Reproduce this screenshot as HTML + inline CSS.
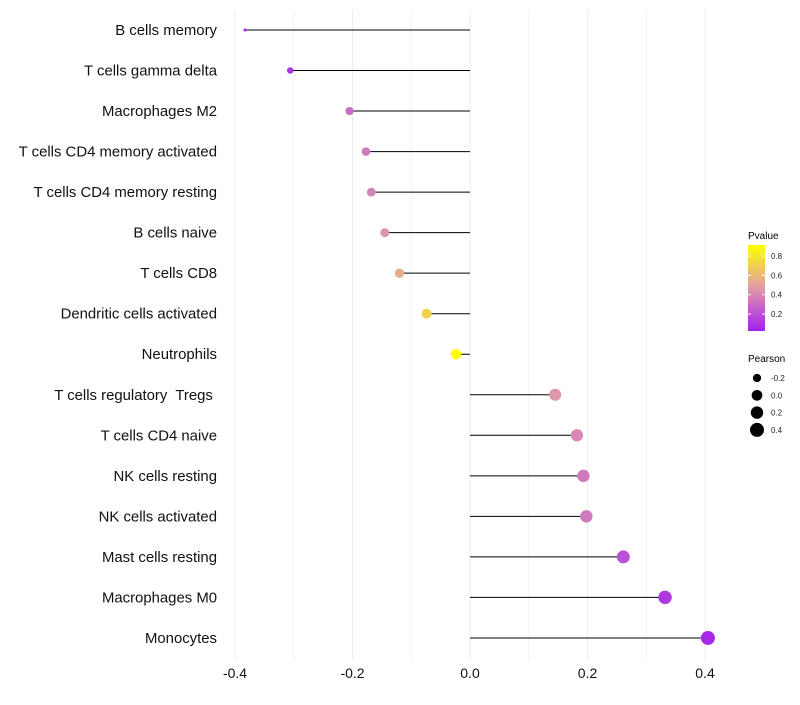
<!DOCTYPE html>
<html><head><meta charset="utf-8"><style>
body{margin:0;background:#fff;font-family:"Liberation Sans",sans-serif}
svg text{font-family:"Liberation Sans",sans-serif;white-space:pre}
</style></head><body>
<svg id="chart" width="800" height="700">
<defs><linearGradient id="pg" x1="0" y1="1" x2="0" y2="0">
<stop offset="0" stop-color="#A020F0"/><stop offset="0.5" stop-color="#E29AA8"/><stop offset="1" stop-color="#FFFF00"/>
</linearGradient></defs>
<g id="grid"></g>
<g id="marks"></g>
<g id="axes"></g>
<g>
<text x="748" y="239" font-size="10">Pvalue</text>
<rect x="748" y="245" width="17" height="86" fill="url(#pg)"/>
<g id="pticks"></g>
</g>
<g>
<text x="748" y="362" font-size="10">Pearson</text>
<g id="sleg"></g>
</g>
</svg>
<script>
const categories=["B cells memory","T cells gamma delta","Macrophages M2","T cells CD4 memory activated","T cells CD4 memory resting","B cells naive","T cells CD8","Dendritic cells activated","Neutrophils","T cells regulatory  Tregs ","T cells CD4 naive","NK cells resting","NK cells activated","Mast cells resting","Macrophages M0","Monocytes"];
const pearson=[-0.383,-0.306,-0.205,-0.177,-0.168,-0.145,-0.12,-0.074,-0.024,0.145,0.182,0.193,0.198,0.261,0.332,0.405];
const pvalue=[0.05,0.1,0.3,0.35,0.38,0.45,0.55,0.7,0.92,0.45,0.4,0.35,0.35,0.2,0.12,0.06];
const xTicks=[-0.4,-0.2,0,0.2,0.4];
const pTicks=[0.2,0.4,0.6,0.8];
const sTicks=[-0.2,0,0.2,0.4];
const NS="http://www.w3.org/2000/svg";
function mk(t,a,p){const e=document.createElementNS(NS,t);for(const k in a)e.setAttribute(k,a[k]);p.appendChild(e);return e;}
const x=v=>470+v*587.5;
const y=i=>30+i*40.53;
const pmin=Math.min(...pearson),pmax=Math.max(...pearson);
const rad=v=>{const t=Math.max(0,(v-pmin)/(pmax-pmin));return 1.5+5.5*Math.sqrt(t);};
function lerp(a,b,t){return a.map((c,i)=>Math.round(c+(b[i]-c)*t));}
function col(p){const t=Math.max(0,Math.min(1,(p-0.03)/0.87));const A=[160,32,240],M=[226,154,168],B=[255,255,0];
const c=t<0.5?lerp(A,M,t*2):lerp(M,B,(t-0.5)*2);return `rgb(${c})`;}
const grid=document.getElementById('grid'),marks=document.getElementById('marks'),axes=document.getElementById('axes');
for(let v=-0.4;v<=0.401;v+=0.1){const l=mk('line',{x1:x(v),x2:x(v),y1:10,y2:660,stroke:'#ececec','stroke-width':Math.abs(Math.round(v*10))%2===0?1:0.6},grid);
}
xTicks.forEach(v=>{const t=mk('text',{x:x(v),y:678,'font-size':14,'text-anchor':'middle',fill:'#111'},axes);t.textContent=v.toFixed(1);
});
categories.forEach((c,i)=>{const t=mk('text',{x:217,y:y(i)+5,'font-size':14.9,'text-anchor':'end',fill:'#111'},axes);t.textContent=c;

const l=mk('line',{x1:x(0),x2:x(pearson[i]),y1:y(i),y2:y(i),stroke:'#000','stroke-width':1},marks);

const d=mk('circle',{cx:x(pearson[i]),cy:y(i),r:rad(pearson[i]),fill:col(pvalue[i])},marks);
});
const pt=document.getElementById('pticks');
pTicks.forEach(p=>{const yy=314-(p-0.2)*96.7;mk('line',{x1:748,x2:751,y1:yy,y2:yy,stroke:'#fff'},pt);mk('line',{x1:762,x2:765,y1:yy,y2:yy,stroke:'#fff'},pt);
const t=mk('text',{x:771,y:yy+3,'font-size':8,fill:'#222'},pt);t.textContent=p.toFixed(1);
});
const sl=document.getElementById('sleg');
sTicks.forEach((s,i)=>{const yy=378+i*17.3;const c=mk('circle',{cx:757,cy:yy,r:rad(s),fill:'#000'},sl);

const t=mk('text',{x:771,y:yy+3,'font-size':8,fill:'#222'},sl);t.textContent=s.toFixed(1);
});
</script>
</body></html>
